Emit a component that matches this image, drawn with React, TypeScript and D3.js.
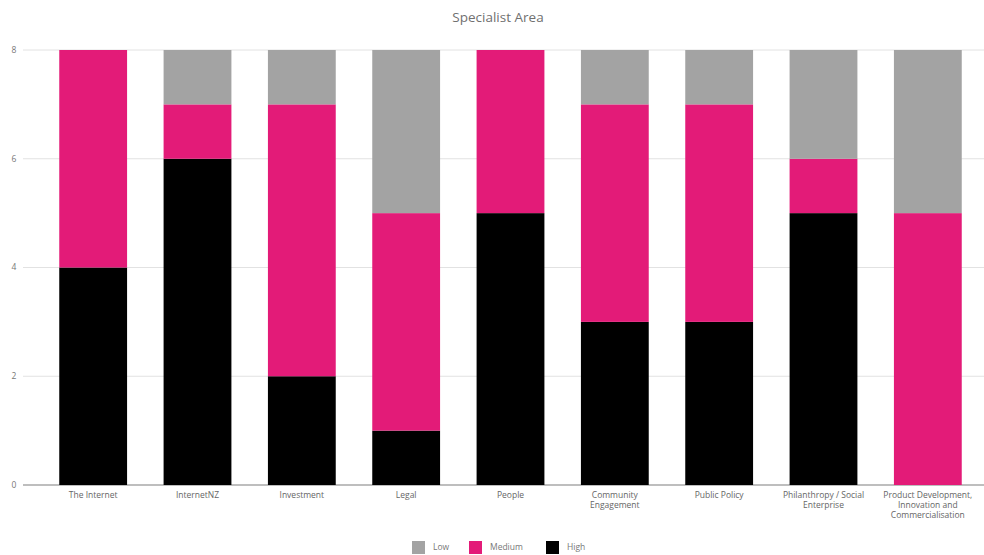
import React from "react";
import * as d3 from "d3";

const categories: string[][] = [
  ["The Internet"],
  ["InternetNZ"],
  ["Investment"],
  ["Legal"],
  ["People"],
  ["Community", "Engagement"],
  ["Public Policy"],
  ["Philanthropy / Social", "Enterprise"],
  ["Product Development,", "Innovation and", "Commercialisation"],
];

const high = [4, 6, 2, 1, 5, 3, 3, 5, 0];
const medium = [4, 1, 5, 4, 3, 4, 4, 1, 5];
const low = [0, 1, 1, 3, 0, 1, 1, 2, 3];

const yTicks = [0, 2, 4, 6, 8];
const seriesNames = ["High", "Medium", "Low"];
const legendOrder = ["Low", "Medium", "High"];

const colors: Record<string, string> = {
  High: "#000000",
  Medium: "#E31B78",
  Low: "#A3A3A3",
};

const W = 984;
const H = 555;
const FONT = "'Open Sans', 'Noto Sans', sans-serif";

export default function App() {
  const keys = categories.map((c) => c.join(" "));
  const rows = keys.map((k, i) => ({
    key: k,
    High: high[i],
    Medium: medium[i],
    Low: low[i],
  }));

  const x = d3
    .scaleBand<string>()
    .domain(keys)
    .range([41, 980])
    .paddingInner(0.35)
    .paddingOuter(0.175);

  const y = d3.scaleLinear().domain([0, 8]).range([485, 50]);

  const stack = d3.stack<any>().keys(seriesNames);
  const layers = stack(rows);

  const legendX: Record<string, number> = { Low: 412, Medium: 469, High: 546 };

  return (
    <svg
      width={W}
      height={H}
      style={{ position: "absolute", left: 0, top: 0, background: "#fff" }}
      fontFamily={FONT}
    >
      <text x={498} y={22} textAnchor="middle" fontSize={13.5} fill="#707070">
        Specialist Area
      </text>

      {yTicks.map((t) => (
        <g key={t}>
          <line
            x1={23}
            x2={984}
            y1={y(t)}
            y2={y(t)}
            stroke={t === 0 ? "#a8a8a8" : "#e2e2e2"}
            strokeWidth={t === 0 ? 1.5 : 1}
          />
          <text
            x={14}
            y={y(t)}
            dy="0.35em"
            textAnchor="middle"
            fontSize={8.5}
            fill="#777"
          >
            {t}
          </text>
        </g>
      ))}

      {layers.map((layer) =>
        layer.map((d, i) => {
          const h = y(d[0]) - y(d[1]);
          if (h <= 0) return null;
          return (
            <rect
              key={layer.key + i}
              x={x(keys[i])}
              y={y(d[1])}
              width={x.bandwidth()}
              height={h}
              fill={colors[layer.key]}
            />
          );
        })
      )}

      {categories.map((lines, i) => (
        <text
          key={i}
          x={(x(keys[i]) as number) + x.bandwidth() / 2}
          y={498}
          textAnchor="middle"
          fontSize={8.5}
          fill="#666"
        >
          {lines.map((l, j) => (
            <tspan key={j} x={(x(keys[i]) as number) + x.bandwidth() / 2} dy={j === 0 ? 0 : 10}>
              {l}
            </tspan>
          ))}
        </text>
      ))}

      {legendOrder.map((name) => (
        <g key={name}>
          <rect
            x={legendX[name]}
            y={541}
            width={13}
            height={13}
            fill={colors[name]}
          />
          <text
            x={legendX[name] + 21}
            y={547.5}
            dy="0.35em"
            fontSize={8.5}
            fill="#777"
          >
            {name}
          </text>
        </g>
      ))}
    </svg>
  );
}
